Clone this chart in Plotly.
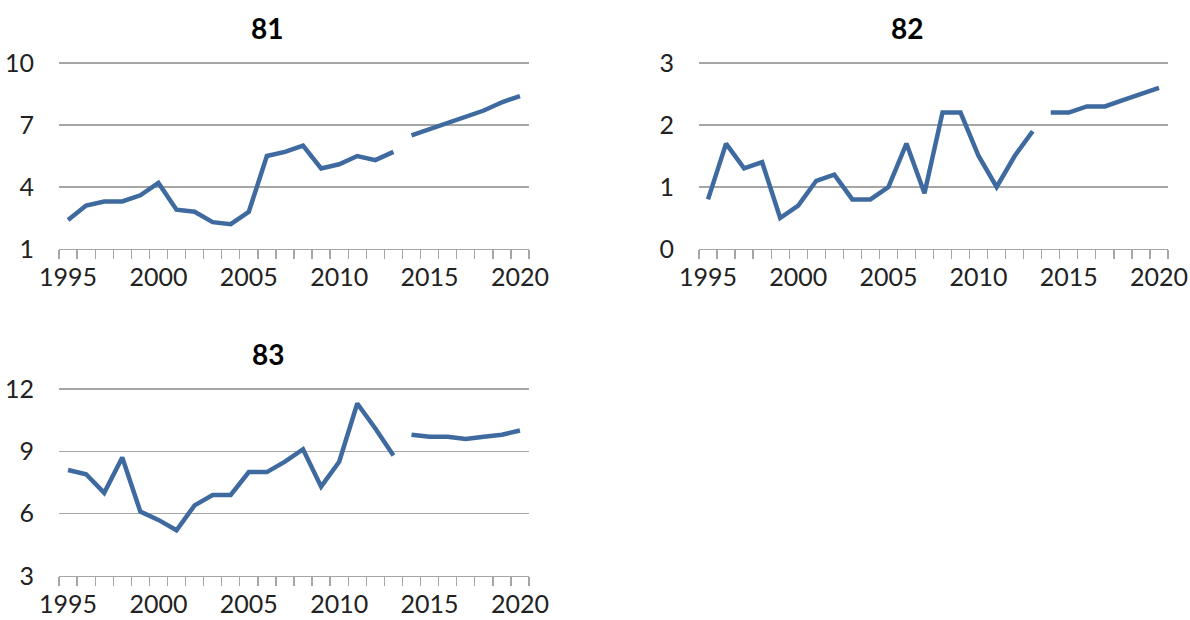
import plotly.graph_objects as go

years_hist = list(range(1995, 2014))
years_proj = list(range(2014, 2021))

s81_hist = [2.4, 3.1, 3.3, 3.3, 3.6, 4.2, 2.9, 2.8, 2.3, 2.2, 2.8, 5.5, 5.7, 6.0, 4.9, 5.1, 5.5, 5.3, 5.7]
s81_proj = [6.5, 6.8, 7.1, 7.4, 7.7, 8.1, 8.4]
s82_hist = [0.8, 1.7, 1.3, 1.4, 0.5, 0.7, 1.1, 1.2, 0.8, 0.8, 1.0, 1.7, 0.9, 2.2, 2.2, 1.5, 1.0, 1.5, 1.9]
s82_proj = [2.2, 2.2, 2.3, 2.3, 2.4, 2.5, 2.6]
s83_hist = [8.1, 7.9, 7.0, 8.7, 6.1, 5.7, 5.2, 6.4, 6.9, 6.9, 8.0, 8.0, 8.5, 9.1, 7.3, 8.5, 11.3, 10.1, 8.8]
s83_proj = [9.8, 9.7, 9.7, 9.6, 9.7, 9.8, 10.0]

titles = ["81", "82", "83"]
y_ranges = [[1, 10], [0, 3], [3, 12]]
y_dticks = [3, 1, 3]
x_labels = [1995, 2000, 2005, 2010, 2015, 2020]

W, H = 1190, 620
panels = [
    dict(x0=59, x1=529, y0=63, y1=249, tx=267, ty=28),
    dict(x0=699, x1=1168, y0=63, y1=249, tx=907, ty=28),
    dict(x0=59, x1=529, y0=389, y1=576, tx=268, ty=354),
]
series = [(s81_hist, s81_proj), (s82_hist, s82_proj), (s83_hist, s83_proj)]

LINE = "#3E6A9F"
GRID = "#A6A6A6"
FONT = "Lato"
TXT = "#222222"
TSIZE = 25
TOPPAD = 3  # px of headroom so the top gridline is drawn

fig = go.Figure()
layout = dict(
    width=W, height=H, margin=dict(l=0, r=0, t=0, b=0, autoexpand=False),
    paper_bgcolor="white", plot_bgcolor="white", showlegend=False,
    font=dict(family=FONT, size=TSIZE, color=TXT),
)
annotations = []
for i, (p, (hist, proj)) in enumerate(zip(panels, series)):
    n = "" if i == 0 else str(i + 1)
    xa, ya = "x" + n, "y" + n
    for xs, ys in ((years_hist, hist), (years_proj, proj)):
        fig.add_trace(go.Scatter(x=xs, y=ys, mode="lines", xaxis=xa, yaxis=ya,
                                 line=dict(color=LINE, width=4.5), hoverinfo="skip"))
    lo, hi = y_ranges[i]
    pad = (hi - lo) * TOPPAD / (p["y1"] - p["y0"])
    layout["xaxis" + n] = dict(
        domain=[p["x0"] / W, p["x1"] / W], anchor=ya, automargin=False,
        range=[1994.5, 2020.5], tickvals=x_labels,
        showgrid=False, zeroline=False,
        showline=True, linecolor=GRID, linewidth=1.3,
        ticks="outside", ticklen=6, tickcolor="rgba(0,0,0,0)",
        minor=dict(tick0=1994.5, dtick=1, ticks="outside", ticklen=9,
                   tickcolor=GRID, tickwidth=1.3, showgrid=False),
        tickfont=dict(family=FONT, size=TSIZE, color=TXT),
    )
    layout["yaxis" + n] = dict(
        domain=[1 - p["y1"] / H, 1 - (p["y0"] - TOPPAD) / H], anchor=xa, automargin=False,
        range=[lo, hi + pad], dtick=y_dticks[i], tick0=lo,
        showgrid=True, gridcolor=GRID, gridwidth=1.3, zeroline=False,
        showline=False,
        ticks="outside", ticklen=19, tickcolor="rgba(0,0,0,0)",
        tickfont=dict(family=FONT, size=TSIZE, color=TXT),
    )
    annotations.append(dict(text="<b>%s</b>" % titles[i], x=p["tx"] / W, y=1 - p["ty"] / H,
                            xref="paper", yref="paper", showarrow=False,
                            xanchor="center", yanchor="middle",
                            font=dict(family=FONT, size=28, color="black")))
layout["annotations"] = annotations
fig.update_layout(**layout)
fig.write_html("out.html", config={"displayModeBar": False, "staticPlot": True},
               post_script="document.body.style.margin='0';document.body.style.overflow='hidden';")
